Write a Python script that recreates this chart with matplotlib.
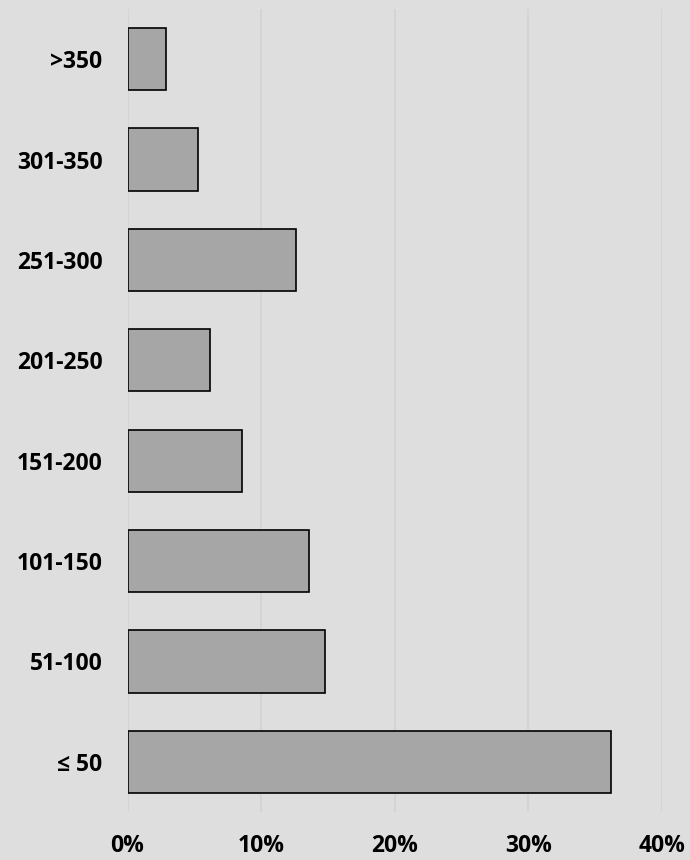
import matplotlib.pyplot as plt
from matplotlib.ticker import FuncFormatter

# Share of items by size band (percent)
categories = ['≤ 50', '51-100', '101-150', '151-200', '201-250', '251-300', '301-350', '>350']
shares = [36.2, 14.8, 13.6, 8.55, 6.2, 12.6, 5.3, 2.85]

bg = '#dedede'
fig = plt.figure(figsize=(6.9, 8.6), dpi=100, facecolor=bg)
ax = fig.add_axes([0.1848, 0.0558, 0.9594 - 0.1848, 0.9895 - 0.0558], facecolor=bg)

ypos = list(range(len(categories)))
ax.barh(ypos, shares, height=0.62, color='#a6a6a6', edgecolor='black', linewidth=1.2, zorder=3)

ax.set_xlim(0, 40)
ax.set_ylim(-0.5, len(categories) - 0.5)
ax.set_xticks([0, 10, 20, 30, 40])
ax.xaxis.set_major_formatter(FuncFormatter(lambda v, p: f'{v:.0f}%'))
ax.set_yticks(ypos)
ax.set_yticklabels(categories)

for lbl in ax.get_xticklabels() + ax.get_yticklabels():
    lbl.set_fontfamily(['Open Sans', 'DejaVu Sans'])
    lbl.set_fontweight('bold')
    lbl.set_fontsize(16.5)
    lbl.set_color('black')

ax.tick_params(axis='x', length=0, pad=16)
ax.tick_params(axis='y', length=0, pad=18)
ax.grid(axis='x', color='#d2d2d2', linewidth=1.2, zorder=0)
for s in ax.spines.values():
    s.set_visible(False)

fig.savefig('out.png', dpi=100, facecolor=bg)
